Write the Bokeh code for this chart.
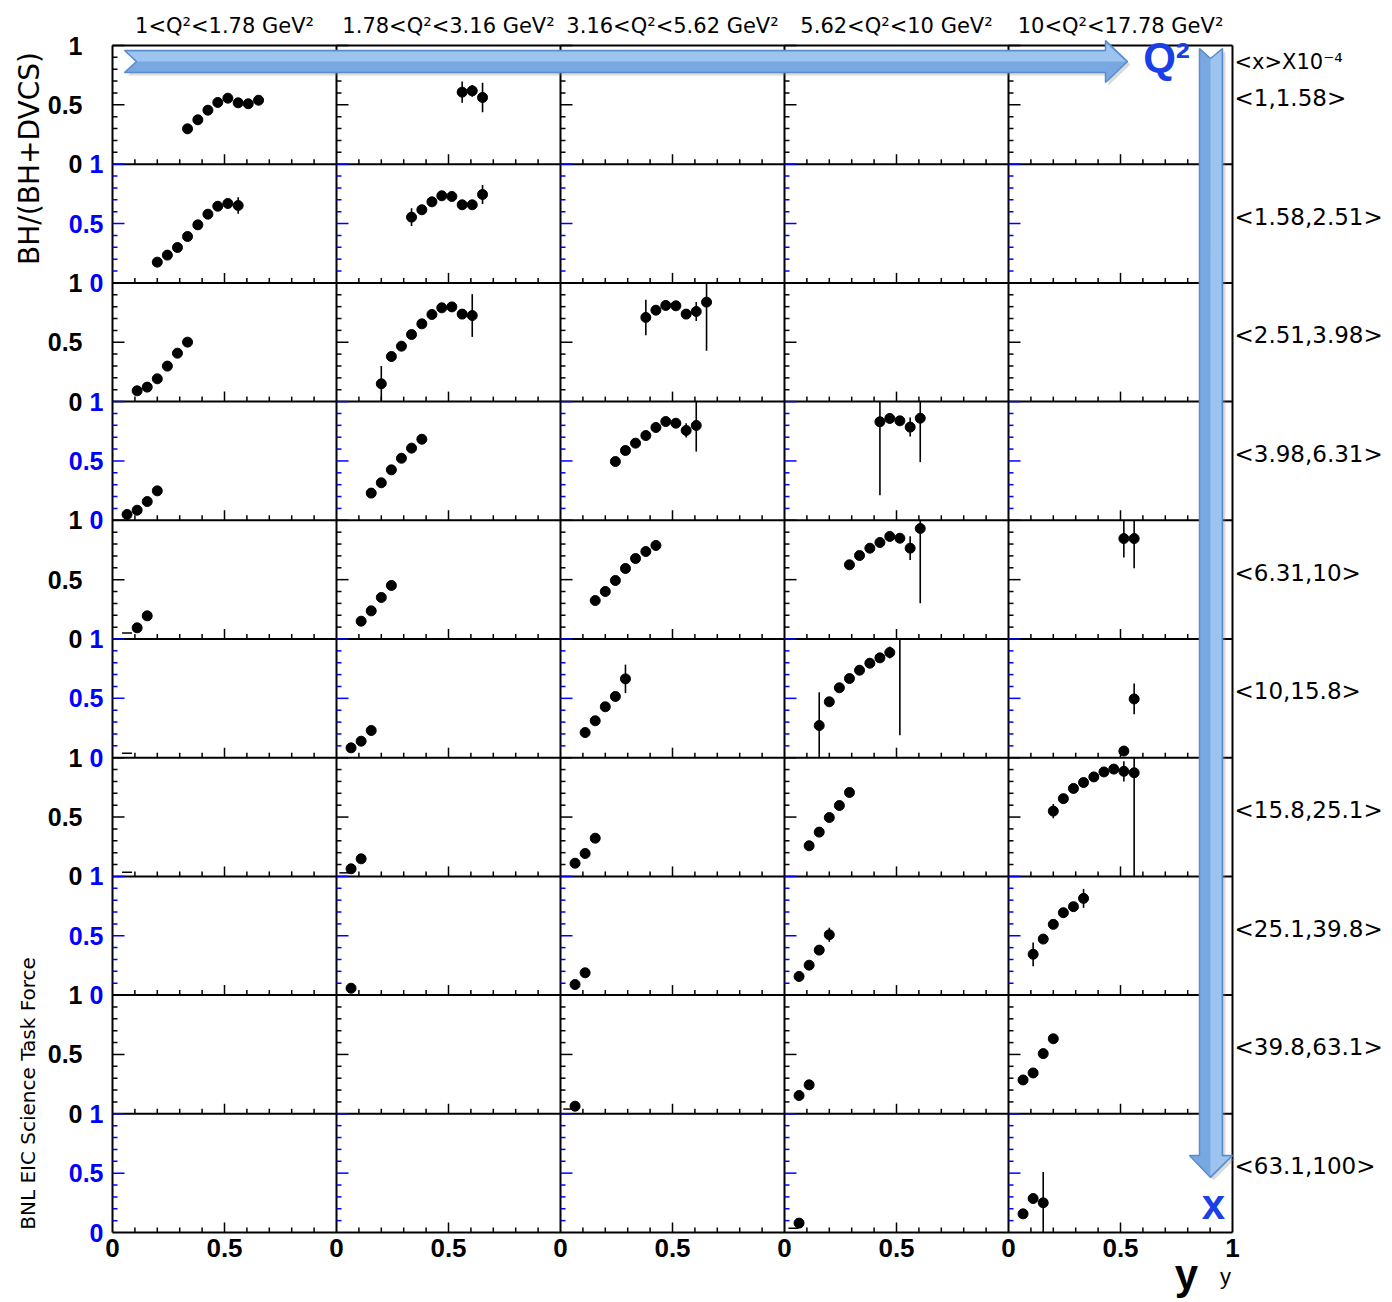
import math
from bokeh.plotting import figure
from bokeh.models import ColumnDataSource, Range1d
from bokeh.embed import file_html
from bokeh.resources import INLINE
from bokeh.core.properties import value

# ------------------------------------------------------------------ data
q2_bins = ["1<Q²<1.78 GeV²", "1.78<Q²<3.16 GeV²", "3.16<Q²<5.62 GeV²",
           "5.62<Q²<10 GeV²", "10<Q²<17.78 GeV²"]
x_bins = ["<1,1.58>", "<1.58,2.51>", "<2.51,3.98>", "<3.98,6.31>", "<6.31,10>",
          "<10,15.8>", "<15.8,25.1>", "<25.1,39.8>", "<39.8,63.1>", "<63.1,100>"]
x_header = "<x>X10⁻⁴"
y_title = "BH/(BH+DVCS)"
credit = "BNL EIC Science Task Force"

# inelasticity y bin centres used by all panels
y_centers = [0.065, 0.110, 0.155, 0.200, 0.245, 0.290, 0.335,
             0.381, 0.426, 0.470, 0.515, 0.561, 0.606, 0.652]

# BH/(BH+DVCS) per panel (row = x bin, col = Q2 bin): values and errors
r1c1 = [0.298, 0.374, 0.455, 0.520, 0.556, 0.517, 0.509, 0.539]
e_r1c1 = [0, 0, 0, 0, 0, 0, 0.01, 0.03]
r1c2 = [0.607, 0.618, 0.562]
e_r1c2 = [0.09, 0.05, 0.125]
r2c1 = [0.175, 0.234, 0.298, 0.391, 0.489, 0.579, 0.646, 0.669, 0.652]
e_r2c1 = [0, 0, 0, 0, 0, 0, 0, 0.01, 0.07]
r2c2 = [0.554, 0.616, 0.683, 0.734, 0.728, 0.658, 0.658, 0.745]
e_r2c2 = [0.075, 0.01, 0.01, 0.01, 0.01, 0.015, 0.015, 0.08]
r3c1 = [0.091, 0.122, 0.192, 0.299, 0.408, 0.501]
e_r3c1 = [0, 0, 0, 0, 0, 0]
r3c2 = [0.150, 0.380, 0.467, 0.565, 0.655, 0.734, 0.790, 0.798, 0.737, 0.725]
e_r3c2 = [0.15, 0.01, 0.01, 0.01, 0.01, 0.01, 0.01, 0.015, 0.02, 0.18]
r3c3 = [0.709, 0.770, 0.810, 0.807, 0.737, 0.759, 0.838]
e_r3c3 = [0.15, 0.02, 0.01, 0.01, 0.02, 0.08, 0.41]
r4c1 = [0.049, 0.085, 0.158, 0.248]
e_r4c1 = [0, 0, 0, 0]
r4c2 = [0.229, 0.316, 0.425, 0.523, 0.608, 0.683]
e_r4c2 = [0, 0, 0, 0, 0, 0]
r4c3 = [0.495, 0.588, 0.650, 0.714, 0.782, 0.832, 0.818, 0.757, 0.799]
e_r4c3 = [0, 0, 0, 0, 0, 0, 0.01, 0.06, 0.22]
r4c4 = [0.830, 0.858, 0.838, 0.785, 0.860]
e_r4c4 = [0.62, 0.02, 0.01, 0.08, 0.37]
r5c1 = [0.094, 0.195]
e_r5c1 = [0, 0]
r5c2 = [0.150, 0.237, 0.350, 0.451]
e_r5c2 = [0, 0, 0, 0]
r5c3 = [0.324, 0.400, 0.493, 0.594, 0.678, 0.737, 0.788]
e_r5c3 = [0, 0, 0, 0, 0, 0, 0]
r5c4 = [0.625, 0.703, 0.765, 0.813, 0.864, 0.849, 0.765, 0.931]
e_r5c4 = [0, 0, 0, 0, 0, 0.01, 0.10, 0.63]
r5c5 = [0.846, 0.846]
e_r5c5 = [0.16, 0.25]
r6c2 = [0.083, 0.139, 0.229]
e_r6c2 = [0, 0, 0]
r6c3 = [0.212, 0.311, 0.429, 0.516, 0.664]
e_r6c3 = [0, 0, 0, 0, 0.12]
r6c4 = [0.271, 0.471, 0.589, 0.667, 0.737, 0.796, 0.841, 0.886, 1.10]
e_r6c4 = [0.28, 0, 0, 0, 0, 0, 0.01, 0.05, 0.91]
r6c5 = [0.056, 0.495]
e_r6c5 = [0.01, 0.13]
r7c2 = [0.064, 0.148]
e_r7c2 = [0, 0]
r7c3 = [0.111, 0.193, 0.322]
e_r7c3 = [0, 0, 0]
r7c4 = [0.258, 0.373, 0.496, 0.597, 0.707]
e_r7c4 = [0, 0, 0, 0, 0]
r7c5 = [0.550, 0.655, 0.741, 0.791, 0.838, 0.880, 0.904, 0.885, 0.873]
e_r7c5 = [0.06, 0.01, 0.01, 0.01, 0.01, 0.01, 0.01, 0.085, 0.90]
r8c2 = [0.058]
e_r8c2 = [0]
r8c3 = [0.089, 0.188]
e_r8c3 = [0, 0]
r8c4 = [0.157, 0.252, 0.379, 0.508]
e_r8c4 = [0, 0, 0, 0.06]
r8c5 = [0.344, 0.472, 0.596, 0.694, 0.745, 0.815]
e_r8c5 = [0.10, 0.01, 0.01, 0.01, 0.02, 0.08]
r9c3 = [0.064]
e_r9c3 = [0]
r9c4 = [0.154, 0.244]
e_r9c4 = [0, 0]
r9c5 = [0.285, 0.344, 0.507, 0.632]
e_r9c5 = [0.02, 0.01, 0.01, 0.03]
r10c4 = [0.079]
e_r10c4 = [0]
r10c5 = [0.157, 0.286, 0.250]
e_r10c5 = [0.01, 0.01, 0.26]

# (row, col, index of first y bin, values, errors)
panels = [
    (1, 1, 6, r1c1, e_r1c1), (1, 2, 11, r1c2, e_r1c2),
    (2, 1, 3, r2c1, e_r2c1), (2, 2, 6, r2c2, e_r2c2),
    (3, 1, 1, r3c1, e_r3c1), (3, 2, 3, r3c2, e_r3c2), (3, 3, 7, r3c3, e_r3c3),
    (4, 1, 0, r4c1, e_r4c1), (4, 2, 2, r4c2, e_r4c2), (4, 3, 4, r4c3, e_r4c3), (4, 4, 8, r4c4, e_r4c4),
    (5, 1, 1, r5c1, e_r5c1), (5, 2, 1, r5c2, e_r5c2), (5, 3, 2, r5c3, e_r5c3), (5, 4, 5, r5c4, e_r5c4),
    (5, 5, 10, r5c5, e_r5c5),
    (6, 2, 0, r6c2, e_r6c2), (6, 3, 1, r6c3, e_r6c3), (6, 4, 2, r6c4, e_r6c4), (6, 5, 10, r6c5, e_r6c5),
    (7, 2, 0, r7c2, e_r7c2), (7, 3, 0, r7c3, e_r7c3), (7, 4, 1, r7c4, e_r7c4), (7, 5, 3, r7c5, e_r7c5),
    (8, 2, 0, r8c2, e_r8c2), (8, 3, 0, r8c3, e_r8c3), (8, 4, 0, r8c4, e_r8c4), (8, 5, 1, r8c5, e_r8c5),
    (9, 3, 0, r9c3, e_r9c3), (9, 4, 0, r9c4, e_r9c4), (9, 5, 0, r9c5, e_r9c5),
    (10, 4, 0, r10c4, e_r10c4), (10, 5, 0, r10c5, e_r10c5),
]

# near-zero entries drawn as short dashes: row, col, y position, value
zero_rows = [5, 6, 7, 7, 9, 10]
zero_cols = [1, 1, 1, 2, 3, 4]
zero_y = [0.065, 0.065, 0.065, 0.035, 0.035, 0.040]
zero_vals = [0.050, 0.038, 0.035, 0.030, 0.040, 0.036]

N_ROWS, N_COLS = len(x_bins), len(q2_bins)

# ------------------------------------------------------------------ layout helpers
# panel grid occupies page pixels x 112..1232, y 45..1232; one data unit per panel
W, H = 1392, 1302
X0_PX, X1_PX, Y0_PX, Y1_PX = 112.0, 1232.0, 1232.0, 45.0
SX = (X1_PX - X0_PX) / N_COLS
SY = (Y0_PX - Y1_PX) / N_ROWS


def dx(px):
    return (px - X0_PX) / SX


def dy(py):
    return (Y0_PX - py) / SY


p = figure(width=W, height=H, x_range=Range1d(dx(0), dx(W)), y_range=Range1d(dy(H), dy(0)),
           output_backend="svg", toolbar_location=None,
           x_axis_location=None, y_axis_location=None,
           min_border_left=0, min_border_right=0, min_border_top=0, min_border_bottom=0)
p.grid.visible = False
p.outline_line_color = None
p.background_fill_color = "white"
p.border_fill_color = "white"

BLUE = "#0000ff"
FONT = "Liberation Sans"
SANS = "DejaVu Sans"

# ---- panel boundaries (incl. outer box)
bx0 = [float(c) for c in range(0, N_COLS + 1)] + [0.0] * (N_ROWS + 1)
bx1 = [float(c) for c in range(0, N_COLS + 1)] + [float(N_COLS)] * (N_ROWS + 1)
by0 = [0.0] * (N_COLS + 1) + [float(r) for r in range(0, N_ROWS + 1)]
by1 = [float(N_ROWS)] * (N_COLS + 1) + [float(r) for r in range(0, N_ROWS + 1)]
p.segment(x0=bx0, y0=by0, x1=bx1, y1=by1, line_color="black", line_width=2)

# ---- in-panel ticks
lx, ly, ll, lc = [], [], [], []
bxx, byy, bll = [], [], []
for r in range(N_ROWS):
    base = N_ROWS - 1 - r
    col = BLUE if r % 2 else "black"
    for c in range(N_COLS):
        for k in range(1, 11):
            lx.append(float(c)); ly.append(base + k / 10.0)
            ll.append(12 if k % 5 == 0 else 5); lc.append(col)
        for k in range(1, 10):
            bxx.append(c + k / 10.0); byy.append(float(base))
            bll.append(10 if k == 5 else 5)
p.ray(x="x", y="y", length="l", angle=0, length_units="screen", line_color="c", line_width=1.5,
      source=ColumnDataSource(dict(x=lx, y=ly, l=ll, c=lc)))
p.ray(x="x", y="y", length="l", angle=math.pi / 2, length_units="screen", line_color="black",
      line_width=1.5, source=ColumnDataSource(dict(x=bxx, y=byy, l=bll)))

# ---- data points
mx, my, ex, elo, ehi = [], [], [], [], []
for row, col, start, vals, errs in panels:
    base = N_ROWS - row
    for i, (v, e) in enumerate(zip(vals, errs)):
        xv = (col - 1) + y_centers[start + i]
        if e > 0:
            ex.append(xv)
            elo.append(base + max(v - e, 0.0))
            ehi.append(base + min(v + e, 1.0))
        if 0.0 <= v <= 1.0:
            mx.append(xv)
            my.append(base + v)
p.segment(x0="x", y0="lo", x1="x", y1="hi", line_color="black", line_width=1.6,
          source=ColumnDataSource(dict(x=ex, lo=elo, hi=ehi)))
p.scatter(x=mx, y=my, size=10, marker="circle", fill_color="black", line_color="black")
p.scatter(x=[c - 1 + yy for c, yy in zip(zero_cols, zero_y)],
          y=[N_ROWS - r + v for r, v in zip(zero_rows, zero_vals)],
          size=10, marker="dash", line_color="black", line_width=1.5)

# ---- arrows (decoration, page-pixel outlines)
def poly(pts):
    return [dx(a) for a, b in pts], [dy(b) for a, b in pts]

h_arrow = [(124, 50), (1105, 50), (1105, 40), (1127, 61), (1105, 82), (1105, 72), (124, 72), (136, 61)]
v_arrow = [(1199, 48), (1210, 58), (1222, 48), (1222, 1155), (1232, 1155), (1210, 1177),
           (1189, 1155), (1199, 1155)]
for pts in (h_arrow, v_arrow):
    xs, ys = poly([(a + 3, b + 3) for a, b in pts])
    p.patch(xs, ys, fill_color="#888888", fill_alpha=0.3, line_color=None)
for pts in (h_arrow, v_arrow):
    xs, ys = poly(pts)
    p.patch(xs, ys, fill_color="#78a8e2", line_color=None)
xs, ys = poly([(126, 51), (1105, 51), (1105, 42), (1125, 61), (134, 61)])
p.patch(xs, ys, fill_color="#9dc3ef", line_color=None)
xs, ys = poly([(1210, 58), (1221, 50), (1221, 1156), (1230, 1156), (1210, 1175)])
p.patch(xs, ys, fill_color="#9dc3ef", line_color=None)
for pts in (h_arrow, v_arrow):
    xs, ys = poly(pts)
    p.patch(xs, ys, fill_color=None, line_color="#5a8bcc", line_width=1.5)

# ---- bottom tick labels
xt, xl = [], []
for c in range(N_COLS):
    xt += [float(c), c + 0.5]
    xl += ["0", "0.5"]
xt.append(float(N_COLS)); xl.append("1")
p.text(x=xt, y=[0.0] * len(xt), text=xl, text_align="center", text_baseline="top", y_offset=6,
       text_font=value(FONT), text_font_style="bold", text_font_size="26px", text_color="black")

# ---- left tick labels: black for odd rows, blue for even rows
def row_ticks(rows):
    ys, ls = [], []
    for r in rows:
        base = float(N_ROWS - 1 - r)
        ys += [base, base + 0.5, base + 1.0]
        ls += ["0", "0.5", "1"]
    return ys, ls

ky, kl = row_ticks(range(0, N_ROWS, 2))
by_, bl = row_ticks(range(1, N_ROWS, 2))
p.text(x=[0.0] * len(ky), y=ky, text=kl, text_align="right", text_baseline="middle", x_offset=-30,
       text_font=value(FONT), text_font_style="bold", text_font_size="25px", text_color="black")
p.text(x=[0.0] * len(by_), y=by_, text=bl, text_align="right", text_baseline="middle", x_offset=-9,
       text_font=value(FONT), text_font_style="bold", text_font_size="25px", text_color=BLUE)

# ---- column headers and row labels
p.text(x=[c + 0.5 for c in range(N_COLS)], y=[float(N_ROWS)] * N_COLS, text=q2_bins,
       text_align="center", text_baseline="middle", y_offset=-20,
       text_font=value(SANS), text_font_size="21px", text_color="black")
p.text(x=[float(N_COLS)] * N_ROWS, y=[N_ROWS - 1 - r + 0.5 for r in range(N_ROWS)], text=x_bins,
       text_align="left", text_baseline="middle", x_offset=2, y_offset=-7,
       text_font=value(SANS), text_font_size="23px", text_color="black")
p.text(x=[float(N_COLS)], y=[float(N_ROWS)], text=[x_header], text_align="left", text_baseline="middle",
       x_offset=2, y_offset=16, text_font=value(SANS), text_font_size="21px", text_color="black")

# ---- titles
p.text(x=[dx(29)], y=[dy(158)], text=[y_title], angle=math.pi / 2, text_align="center",
       text_baseline="middle", text_font=value(SANS), text_font_size="28px", text_color="black")
p.text(x=[dx(27)], y=[dy(1093)], text=[credit], angle=math.pi / 2, text_align="center",
       text_baseline="middle", text_font=value(SANS), text_font_size="20px", text_color="black")
p.text(x=[dx(1186)], y=[dy(1274)], text=["y"], text_align="center", text_baseline="middle",
       text_font=value(FONT), text_font_style="bold", text_font_size="42px", text_color="black")
p.text(x=[dx(1225)], y=[dy(1276)], text=["y"], text_align="center", text_baseline="middle",
       text_font=value(FONT), text_font_size="22px", text_color="black")
p.text(x=[dx(1166)], y=[dy(57)], text=["Q²"], text_align="center", text_baseline="middle",
       text_font=value(FONT), text_font_style="bold", text_font_size="42px", text_color="#1a3fe6")
p.text(x=[dx(1213)], y=[dy(1204)], text=["x"], text_align="center", text_baseline="middle",
       text_font=value(FONT), text_font_style="bold", text_font_size="42px", text_color="#1a3fe6")

open("out.html", "w").write(file_html(p, INLINE))
